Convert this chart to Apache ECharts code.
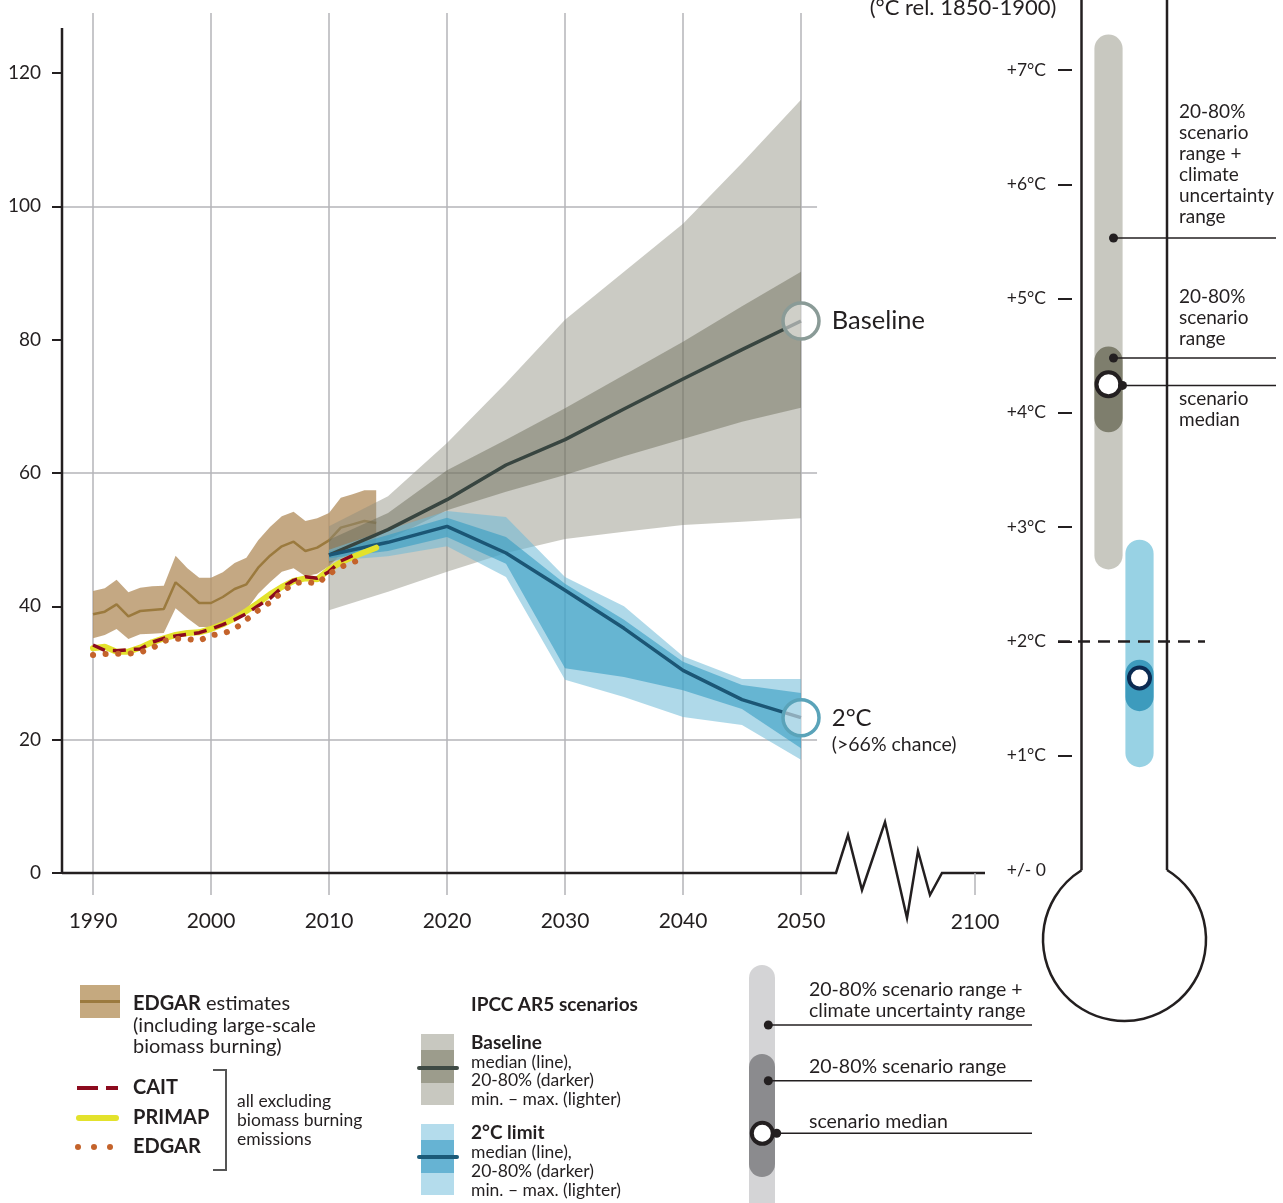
<!DOCTYPE html>
<html><head><meta charset="utf-8">
<script src="https://cdn.jsdelivr.net/npm/echarts@6/dist/echarts.min.js"></script>
<style>html,body{margin:0;padding:0;background:#fff}#c{width:1283px;height:1203px}</style>
</head><body><div id="c"></div>
<script>
const FONT = 'Lato, "Open Sans", sans-serif';
const INK = '#231f20';

// ---------- historical data (Gt CO2e) ----------
const histYears = [1990,1991,1992,1993,1994,1995,1996,1997,1998,1999,2000,2001,2002,2003,2004,2005,2006,2007,2008,2009,2010,2011,2012,2013,2014];
const edgarMid  = [38.8,39.2,40.3,38.5,39.3,39.45,39.6,43.6,42.1,40.5,40.5,41.4,42.6,43.3,45.8,47.6,49.0,49.7,48.3,48.8,49.9,51.8,52.3,52.8,52.5];
const edgarLow  = [35.2,35.7,36.6,35.1,35.8,35.9,36.0,39.7,38.2,36.9,36.9,37.6,38.7,39.5,41.9,43.6,45.2,45.7,44.5,44.9,46.0,47.8,48.3,48.8,48.6];
const edgarHigh = [42.3,42.7,44.0,42.1,42.8,43.0,43.1,47.6,45.7,44.3,44.3,45.1,46.5,47.3,49.9,51.9,53.5,54.2,52.8,53.2,54.0,56.3,56.8,57.4,57.4];
const caitYears = [1990,1991,1992,1993,1994,1995,1996,1997,1998,1999,2000,2001,2002,2003,2004,2005,2006,2007,2008,2009,2010,2011,2012];
const cait      = [34.2,33.4,33.35,33.5,33.6,34.6,35.2,35.55,35.8,36.05,36.6,37.25,38.0,38.9,40.1,41.2,42.8,43.9,44.45,44.2,45.2,46.8,47.6];
const primap    = [33.7,33.95,33.2,33.2,33.8,34.6,35.2,35.7,36.0,36.1,36.6,37.3,38.2,39.3,40.5,41.8,42.9,43.8,44.2,44.05,45.5,46.6,47.4,48.1,48.8];
const edgarExclYears = [1990,1991,1992,1993,1994,1995,1996,1997,1998,1999,2000,2001,2002,2003,2004,2005,2006,2007,2008,2009,2010,2011,2012,2013];
const edgarExcl = [32.7,32.85,32.9,32.9,33.1,33.7,34.8,35.15,35.1,34.85,35.65,35.9,36.6,38.0,39.4,40.6,42.1,43.45,43.7,43.4,44.85,45.9,46.6,47.2];

// ---------- IPCC AR5 scenarios ----------
const scenYears = [2010,2015,2020,2025,2030,2035,2040,2045,2050];
const baseMin = [39.4,42.2,45.2,48.0,50.1,51.2,52.2,52.7,53.2];
const base20  = [46.5,50.0,54.4,57.2,59.7,62.5,65.1,67.7,69.8];
const baseMed = [47.7,51.5,56.0,61.2,65.0,69.6,74.1,78.5,82.8];
const base80  = [50.0,54.0,60.4,65.0,69.7,74.7,79.7,85.0,90.2];
const baseMax = [52.0,56.5,64.5,73.5,83.0,90.2,97.4,106.5,116.0];
const twoMin  = [46.8,47.5,49.0,44.4,29.0,26.4,23.4,22.2,17.0];
const two20   = [47.2,48.3,50.4,46.4,30.7,29.4,27.4,24.6,18.7];
const twoMed  = [47.7,49.6,52.0,48.0,42.4,36.7,30.4,26.0,23.3];
const two80   = [48.2,50.7,53.3,50.4,43.4,38.0,31.7,28.2,27.0];
const twoMax  = [48.5,51.5,54.3,53.4,44.4,40.0,32.5,29.1,29.1];

// ---------- axes ----------
const xTicks = [1990,2000,2010,2020,2030,2040,2050];
const yTicks = [0,20,40,60,80,100,120];
const yGridLines = [20,60,100];
const xMin = 1987.373, xMax = 2065.593, yMax = 129, yAxisTop = 126.75, hGridEnd = 2051.36;

// ---------- thermometer (°C rel. 1850-1900) ----------
const thermoCats = ['Baseline','2°C'];
const thermoRange = [[2.63,7.31],[0.90,2.89]];   // 20-80% scenario range + climate uncertainty
const thermo2080  = [[3.83,4.58],[1.39,1.84]];   // 20-80% scenario range
const thermoMedian = [4.25,1.68];
const thermoTicks = [1,2,3,4,5,6,7];
const thermoLabels = [0,1,2,3,4,5,6,7];
const thermoPointers = [5.53,4.48,4.24];

function bandSeries(xs, lo, hi, color, z) {
  return {
    type:'custom', coordinateSystem:'cartesian2d', xAxisIndex:0, yAxisIndex:0, silent:true, z:z,
    data: xs.map((x,i)=>[x, lo[i], hi[i]]),
    encode:{x:0, y:[1,2]},
    renderItem(params, api) {
      if (params.dataIndex !== 0) return null;
      const pts = [];
      for (let i=0;i<xs.length;i++) pts.push(api.coord([xs[i], hi[i]]));
      for (let i=xs.length-1;i>=0;i--) pts.push(api.coord([xs[i], lo[i]]));
      return {type:'polygon', shape:{points:pts}, style:{fill:color}};
    }
  };
}
function lineSeries(xs, ys, style, z) {
  return {type:'line', xAxisIndex:0, yAxisIndex:0, data: xs.map((x,i)=>[x, ys[i]]), symbol:'none', silent:true, lineStyle:style, z:z};
}
function thermoBar(ranges, colors) {
  return {
    type:'custom', xAxisIndex:1, yAxisIndex:1, silent:true, z:3,
    data: ranges.map((r,i)=>[i, r[0], r[1]]),
    encode:{x:0, y:[1,2]},
    renderItem(params, api) {
      const i = params.dataIndex;
      const top = api.coord([api.value(0), api.value(2)]);
      const bot = api.coord([api.value(0), api.value(1)]);
      const w = api.size([1,0])[0] * 0.91;
      return {type:'rect', shape:{x: top[0]-w/2, y: top[1], width:w, height: bot[1]-top[1], r: w/2}, style:{fill: colors[i]}};
    }
  };
}

const gridMarks = {
  silent:true, symbol:['none','none'], z:1, animation:false,
  label:{show:false},
  lineStyle:{type:'solid', color:'#b4b4b8', width:1.5},
  data: xTicks.map(v=>({xAxis:v})).concat(yGridLines.map(v=>[{coord:[xMin, v]},{coord:[hGridEnd, v]}]))
};

const option = {
  animation:false,
  backgroundColor:'#ffffff',
  textStyle:{fontFamily:FONT},
  grid:[{left:62, right:298, top:13, bottom:330}, {left:1093, right:128, top:12.86, bottom:333}],
  xAxis:[
    {type:'value', gridIndex:0, min:xMin, max:xMax, axisLine:{show:false}, splitLine:{show:false},
     axisTick:{show:true, customValues:xTicks, length:22, lineStyle:{color:'#b4b4b8', width:1.5}},
     axisLabel:{customValues:xTicks, margin:38, fontSize:21, color:INK, fontFamily:FONT, formatter:v=>String(v)}},
    {type:'category', gridIndex:1, data:thermoCats, show:false, boundaryGap:true}
  ],
  yAxis:[
    {type:'value', gridIndex:0, min:0, max:yMax, axisLine:{show:false}, splitLine:{show:false},
     axisTick:{show:true, customValues:yTicks, length:10, lineStyle:{color:INK, width:2}},
     axisLabel:{customValues:yTicks, margin:21, fontSize:19, color:INK, fontFamily:FONT, formatter:v=>String(v)}},
    {type:'value', gridIndex:1, min:0, max:7.5, offset:21, axisLine:{show:false}, splitLine:{show:false},
     axisTick:{show:true, customValues:thermoTicks, length:14, lineStyle:{color:INK, width:2}},
     axisLabel:{customValues:thermoLabels, margin:26, fontSize:17.5, color:INK, fontFamily:FONT,
       formatter:v=> v===0 ? '+/- 0' : '+'+v+'°C'}}
  ],
  series:[
    {type:'line', xAxisIndex:0, yAxisIndex:0, data:[], silent:true, markLine:gridMarks, z:1},
    bandSeries(histYears, edgarLow, edgarHigh, 'rgba(181,146,100,0.8)', 2),
    lineSeries(histYears, edgarMid, {color:'#9b7a3e', width:2.5}, 3),
    bandSeries(scenYears, baseMin, baseMax, 'rgba(140,140,125,0.45)', 4),
    bandSeries(scenYears, base20, base80, 'rgba(104,104,84,0.45)', 4),
    bandSeries(scenYears, twoMin, twoMax, 'rgba(110,185,215,0.55)', 5),
    bandSeries(scenYears, two20, two80, 'rgba(53,156,195,0.6)', 5),
    lineSeries(scenYears, baseMed, {color:'#384540', width:3.5}, 6),
    lineSeries(scenYears, twoMed, {color:'#1b5675', width:3.5}, 6),
    lineSeries(histYears, primap, {color:'#e3e22c', width:6, cap:'round'}, 7),
    lineSeries(caitYears, cait, {color:'#8c0a1e', width:3.5, type:[13,8]}, 8),
    lineSeries(edgarExclYears, edgarExcl, {color:'#c4632b', width:6, type:[0.1,12.5], cap:'round'}, 8),
    {type:'scatter', xAxisIndex:0, yAxisIndex:0, silent:true, z:9, symbolSize:36,
     itemStyle:{color:'rgba(255,255,255,0.5)', borderWidth:3.5, opacity:1},
     data:[
       {value:[scenYears[8], baseMed[8]], itemStyle:{borderColor:'#8a9b97'},
        label:{show:true, position:'right', distance:11, formatter:'Baseline', fontSize:25.5, color:INK, fontFamily:FONT}},
       {value:[scenYears[8], twoMed[8]], itemStyle:{borderColor:'#5aa3b9'},
        label:{show:true, position:'right', distance:11, offset:[0,13], formatter:'{a|2°C}\n{b|(>66% chance)}', color:INK, fontFamily:FONT,
          rich:{a:{fontSize:24, lineHeight:28, color:INK, fontFamily:FONT}, b:{fontSize:19.5, lineHeight:24, color:INK, fontFamily:FONT}}}}
     ]},
    thermoBar(thermoRange, ['#c8c8c0','#98d2e4']),
    thermoBar(thermo2080, ['#7e7e6d','#3d9bbd']),
    {type:'scatter', xAxisIndex:1, yAxisIndex:1, silent:true, z:4,
     itemStyle:{color:'#ffffff', borderWidth:4, opacity:1},
     data:[
       {value:[0, thermoMedian[0]], symbolSize:24, itemStyle:{borderColor:INK}},
       {value:[1, thermoMedian[1]], symbolSize:21, itemStyle:{borderColor:'#0b2b52'}}
     ]}
  ]
};

const chart = echarts.init(document.getElementById('c'), null, {renderer:'canvas'});
chart.setOption(option);

// ---------- decorations ----------
const P = (x,y) => chart.convertToPixel({xAxisIndex:0, yAxisIndex:0}, [x,y]);
const TY = v => chart.convertToPixel({xAxisIndex:1, yAxisIndex:1}, [0, v])[1];
const TX = i => chart.convertToPixel({xAxisIndex:1, yAxisIndex:1}, [i, 0])[0];
const g = [];
function txt(t, x, y, size, opts) {
  opts = opts || {};
  g.push({type:'text', silent:true, z:20, style:Object.assign({text:t, x:x, y:y, fill:INK,
    font:(opts.bold?'bold ':'')+size+'px '+FONT, fontSize:size, fontFamily:FONT, fontWeight:opts.bold?'bold':'normal',
    textAlign:opts.align||'left', align:opts.align||'left', textVerticalAlign:'middle', verticalAlign:'middle'}, opts.extra||{})});
}
function ln(x1,y1,x2,y2,stroke,w,extra) {
  g.push({type:'line', silent:true, z:20, shape:{x1,y1,x2,y2}, style:Object.assign({stroke, lineWidth:w}, extra||{})});
}
function dot(x,y,r,fill) { g.push({type:'circle', silent:true, z:21, shape:{cx:x, cy:y, r:r}, style:{fill}}); }
function rect(x,y,w,h,fill,r) { g.push({type:'rect', silent:true, z:19, shape:{x,y,width:w,height:h,r:r||0}, style:{fill}}); }

// y axis line
const y0 = P(xMin,0), yTop = P(xMin,yAxisTop);
ln(y0[0], y0[1]+1, yTop[0], yTop[1], INK, 2.5);
// x axis with break
const ax = P(2050,0);
const bx = ax[0], by = ax[1];
g.push({type:'polyline', silent:true, z:20, shape:{points:[
  [y0[0],by],[bx+35,by],[bx+47,by-38],[bx+61,by+17],[bx+84,by-51],[bx+106,by+45],[bx+117,by-22],[bx+129,by+22],[bx+141,by],[bx+184,by]
]}, style:{stroke:INK, lineWidth:2.5, fill:null, lineJoin:'miter'}});
ln(bx+174, by, bx+174, by+22, '#b4b4b8', 1.5);
txt('2100', bx+174, by+49, 21, {align:'center'});

// thermometer title (clipped at top)
txt('(°C rel. 1850-1900)', 963, 8, 22, {align:'center'});

// thermometer tube
const cx = 1124.5, cy = 939.5, R = 81.5, tl = 1081.5, tr = 1167;
const yl = cy - Math.sqrt(R*R - (cx-tl)*(cx-tl));
const yr = cy - Math.sqrt(R*R - (tr-cx)*(tr-cx));
ln(tl, -5, tl, yl, INK, 2.5);
ln(tr, -5, tr, yr, INK, 2.5);
g.push({type:'arc', silent:true, z:20, shape:{cx, cy, r:R,
  startAngle: Math.atan2(yr-cy, tr-cx), endAngle: Math.atan2(yl-cy, tl-cx) + 2*Math.PI, clockwise:true},
  style:{stroke:INK, lineWidth:2.5, fill:null}});
// 2°C dashed line
const y2 = TY(2);
ln(1058, y2, 1205, y2, INK, 2.5, {lineDash:[12,8]});
// pointers
const bxT = TX(0);
const p1 = TY(thermoPointers[0]), p2 = TY(thermoPointers[1]), p3 = TY(thermoPointers[2]);
dot(bxT+5, p1, 4.5, INK); ln(bxT+5, p1, 1276, p1, INK, 1.5);
dot(bxT+5, p2, 4.5, INK); ln(bxT+5, p2, 1276, p2, INK, 1.5);
dot(bxT+14, p3, 4.5, INK); ln(bxT+14, p3, 1276, p3, INK, 1.5);
['20-80%','scenario','range +','climate','uncertainty','range'].forEach((t,i)=>txt(t, 1179, 111.7+i*21, 19));
['20-80%','scenario','range'].forEach((t,i)=>txt(t, 1179, 296.7+i*21, 19));
['scenario','median'].forEach((t,i)=>txt(t, 1179, 398.5+i*21.5, 19));

// ---------- bottom legend ----------
rect(80, 985, 40, 33, '#c5a97f');
ln(80, 1001.5, 120, 1001.5, '#9b7a3e', 3);
g.push({type:'text', silent:true, z:20, style:{text:'{b|EDGAR} estimates', x:133, y:1004, fill:INK, font:'20px '+FONT,
  textVerticalAlign:'middle', verticalAlign:'middle', rich:{b:{fontWeight:'bold', fontSize:20, fontFamily:FONT, fill:INK}}}});
txt('(including large-scale', 133, 1026, 20);
txt('biomass burning)', 133, 1047, 20);
ln(77, 1088, 118, 1088, '#8c0a1e', 4, {lineDash:[21,8]});
txt('CAIT', 133, 1088, 20, {bold:true});
g.push({type:'line', silent:true, z:20, shape:{x1:79, y1:1118, x2:116, y2:1118}, style:{stroke:'#e3e22c', lineWidth:6, lineCap:'round'}});
txt('PRIMAP', 133, 1118, 20, {bold:true});
[78,94,110].forEach(x=>dot(x, 1147, 3, '#c4632b'));
txt('EDGAR', 133, 1147, 20, {bold:true});
g.push({type:'polyline', silent:true, z:20, shape:{points:[[213,1070],[226,1070],[226,1170],[213,1170]]}, style:{stroke:'#555555', lineWidth:2, fill:null}});
txt('all excluding', 237, 1101, 17.5);
txt('biomass burning', 237, 1120, 17.5);
txt('emissions', 237, 1139, 17.5);

txt('IPCC AR5 scenarios', 471, 1005, 19, {bold:true});
rect(421, 1034, 33, 71, '#c8c8c0');
rect(421, 1050, 33, 33, '#9c9c8c');
g.push({type:'line', silent:true, z:20, shape:{x1:419, y1:1068, x2:457, y2:1068}, style:{stroke:'#3e4a44', lineWidth:4, lineCap:'round'}});
txt('Baseline', 471, 1043, 19, {bold:true});
txt('median (line),', 471, 1062, 17.5);
txt('20-80% (darker)', 471, 1080.5, 17.5);
txt('min. – max. (lighter)', 471, 1099.5, 17.5);
rect(421, 1124, 33, 71, '#b4dcec');
rect(421, 1140, 33, 33, '#66b3d3');
g.push({type:'line', silent:true, z:20, shape:{x1:419, y1:1157, x2:457, y2:1157}, style:{stroke:'#1b5a78', lineWidth:4, lineCap:'round'}});
txt('2°C limit', 471, 1133, 19, {bold:true});
txt('median (line),', 471, 1152.5, 17.5);
txt('20-80% (darker)', 471, 1171, 17.5);
txt('min. – max. (lighter)', 471, 1190, 17.5);

// thermometer key
rect(749, 965, 26, 260, '#d4d4d6', 13);
rect(749, 1054, 26, 123, '#8b8b8e', 13);
g.push({type:'circle', silent:true, z:21, shape:{cx:762.3, cy:1133.3, r:10.5}, style:{fill:'#ffffff', stroke:INK, lineWidth:4}});
dot(768.3, 1025, 4.5, INK); ln(768.3, 1025, 1032, 1025, INK, 1.5);
dot(768.3, 1080.7, 4.5, INK); ln(768.3, 1080.7, 1032, 1080.7, INK, 1.5);
dot(776.7, 1133.3, 4.5, INK); ln(776.7, 1133.3, 1032, 1133.3, INK, 1.5);
txt('20-80% scenario range +', 809, 989.5, 19.5);
txt('climate uncertainty range', 809, 1010.5, 19.5);
txt('20-80% scenario range', 809, 1066.5, 19.5);
txt('scenario median', 809, 1122, 19.5);

chart.setOption({graphic:{elements:g}});
</script>
</body></html>
